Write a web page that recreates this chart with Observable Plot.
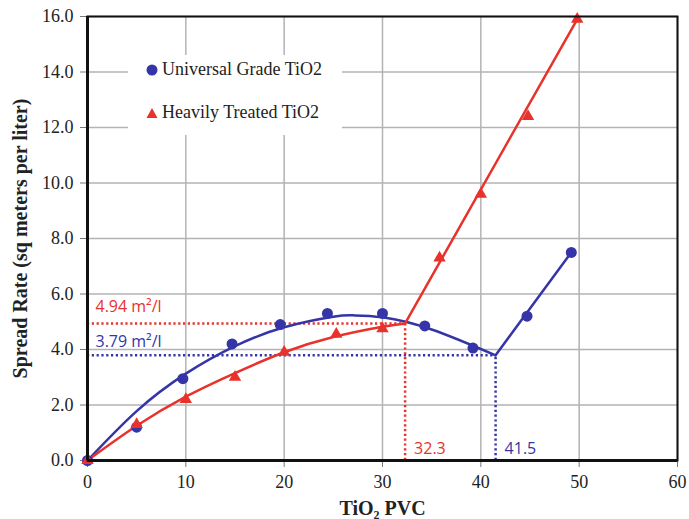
<!DOCTYPE html>
<html>
<head>
<meta charset="utf-8">
<script src="https://cdn.jsdelivr.net/npm/d3@7"></script>
<script src="https://cdn.jsdelivr.net/npm/@observablehq/plot@0.6"></script>
<style>
  html, body { margin: 0; padding: 0; background: white; }
  #wrap { position: relative; width: 689px; height: 519px; }
  #wrap g[aria-label$="tick label"] { font-family: "Liberation Serif", "Times New Roman", serif !important; font-variant: normal !important; }
  #legend { position: absolute; left: 128px; top: 55px; width: 214px; height: 80px; background: white;
    font-family: "Liberation Serif", "Times New Roman", serif; font-size: 18px; color: #222; }
  #legend .row { position: absolute; left: 17px; display: flex; align-items: center; }
  #legend svg { margin-right: 3px; }
</style>
</head>
<body>
<div id="wrap"></div>
<script>
// ---- data ----
const universalX = [0, 5, 9.7, 14.7, 19.6, 24.4, 30, 34.3, 39.2, 44.7, 49.2];
const universalY = [0, 1.2, 2.95, 4.2, 4.9, 5.3, 5.3, 4.85, 4.05, 5.2, 7.5];
const treatedX = [0, 5, 10, 15, 20, 25.3, 30, 35.8, 40, 44.8, 49.8];
const treatedY = [0, 1.3, 2.2, 3.0, 3.9, 4.55, 4.75, 7.3, 9.6, 12.4, 15.9];

// fitted curve (below CPVC)
const universalFitX = [0, 5, 10, 15, 20, 25, 27, 30, 35, 41.5];
const universalFitY = [0, 1.78, 3.13, 4.12, 4.8, 5.18, 5.23, 5.16, 4.72, 3.79];
const treatedFitX = [0, 5, 10, 15, 20, 25, 30, 32.3];
const treatedFitY = [0, 1.25, 2.3, 3.15, 3.9, 4.45, 4.82, 4.94];

// CPVC annotations
const cpvcX = [32.3, 41.5];
const cpvcY = [4.94, 3.79];
const cpvcSeries = ["treated", "universal"];
const cpvcLabelY = ["4.94 m²/l", "3.79 m²/l"];
const cpvcLabelX = ["32.3", "41.5"];

const seriesNames = ["Universal Grade TiO2", "Heavily Treated TiO2"];
const xTicks = [0, 10, 20, 30, 40, 50, 60];
const yTicks = [0, 2, 4, 6, 8, 10, 12, 14, 16];
const xTitle = "TiO₂ PVC";
const yTitle = "Spread Rate (sq meters per liter)";

// ---- build tables ----
const BLUE = "#3535a8", RED = "#e8322b";
const colorOf = s => s === "universal" ? BLUE : RED;
const universal = universalX.map((x, i) => ({x, y: universalY[i]}));
const treated = treatedX.map((x, i) => ({x, y: treatedY[i]}));
const universalFit = universalFitX.map((x, i) => ({x, y: universalFitY[i]}));
const treatedFit = treatedFitX.map((x, i) => ({x, y: treatedFitY[i]}));
const annot = cpvcX.map((x, i) => ({x, y: cpvcY[i], s: cpvcSeries[i], ly: cpvcLabelY[i], lx: cpvcLabelX[i]}));
const annotU = annot.filter(d => d.s === "universal");
const annotT = annot.filter(d => d.s === "treated");
const universalLine = [{x: cpvcX[1], y: cpvcY[1]}, universal[universal.length - 1]];
const treatedLine = [{x: cpvcX[0], y: cpvcY[0]}, treated[treated.length - 1]];

const sans = "'Open Sans', 'Noto Sans', sans-serif";
const serif = "'Liberation Serif', 'Times New Roman', serif";

const chart = Plot.plot({
  width: 689, height: 519,
  marginLeft: 87, marginRight: 12, marginTop: 16, marginBottom: 59,
  x: {domain: [0, 60]},
  y: {domain: [0, 16]},
  style: {fontFamily: serif, fontSize: "18px", color: "#222", background: "white"},
  marks: [
    Plot.gridX(xTicks, {stroke: "#b3b3b3", strokeOpacity: 1, strokeWidth: 1.5}),
    Plot.gridY(yTicks, {stroke: "#b3b3b3", strokeOpacity: 1, strokeWidth: 1.5}),
    Plot.axisX(xTicks, {tickSize: 7, tickPadding: 8, stroke: "#777", fill: "#222", fontFamily: serif, fontSize: 18, label: null, tickFormat: d => String(d)}),
    Plot.axisY(yTicks, {tickSize: 7, tickPadding: 7, stroke: "#777", fill: "#222", fontFamily: serif, fontSize: 18, label: null, tickFormat: d => d.toFixed(1)}),
    Plot.ruleY(annot, {y: "y", x1: 0, x2: "x", stroke: d => colorOf(d.s), strokeWidth: 2.5, strokeDasharray: "2.2,2.6"}),
    Plot.ruleX(annot, {x: "x", y1: 0, y2: "y", stroke: d => colorOf(d.s), strokeWidth: 2.5, strokeDasharray: "2.2,2.6"}),
    Plot.line(universalFit, {x: "x", y: "y", curve: "natural", stroke: BLUE, strokeWidth: 2.5}),
    Plot.line(treatedFit, {x: "x", y: "y", curve: "natural", stroke: RED, strokeWidth: 2.5}),
    Plot.line(universalLine, {x: "x", y: "y", stroke: BLUE, strokeWidth: 2.5}),
    Plot.line(treatedLine, {x: "x", y: "y", stroke: RED, strokeWidth: 2.5}),
    Plot.dot(universal, {x: "x", y: "y", symbol: "circle", r: 5.5, fill: BLUE}),
    Plot.dot(treated, {x: "x", y: "y", symbol: "triangle", r: 4.6, fill: RED}),
    Plot.text(annotT, {x: 0, y: "y", text: "ly", fill: RED, textAnchor: "start", dx: 8, dy: -17, fontFamily: sans, fontSize: 16}),
    Plot.text(annotU, {x: 0, y: "y", text: "ly", fill: BLUE, textAnchor: "start", dx: 8, dy: -13, fontFamily: sans, fontSize: 16}),
    Plot.text(annot, {x: "x", y: 0, text: "lx", fill: d => colorOf(d.s), textAnchor: "start", dx: 9, dy: -12, fontFamily: sans, fontSize: 16}),
    Plot.frame({stroke: "#111", strokeWidth: 2}),
    Plot.ruleX([0], {stroke: "#111", strokeWidth: 3}),
    Plot.ruleY([0], {stroke: "#111", strokeWidth: 3}),
    Plot.text([yTitle], {frameAnchor: "left", text: d => d, rotate: -90, textAnchor: "middle", lineAnchor: "middle", dx: -67, fontWeight: "bold", fontSize: 20, fill: "#222"}),
    Plot.text([xTitle], {frameAnchor: "bottom", text: d => d, textAnchor: "middle", lineAnchor: "middle", dy: 48, fontWeight: "bold", fontSize: 20, fill: "#222"})
  ]
});

const wrap = document.getElementById("wrap");
wrap.appendChild(chart);

// legend (inside plot, white box)
const legend = document.createElement("div");
legend.id = "legend";
const syms = [
  `<svg width="14" height="14"><circle cx="7" cy="7" r="5.5" fill="${BLUE}"/></svg>`,
  `<svg width="14" height="14"><path d="M7 2 L12.5 12 L1.5 12 Z" fill="${RED}"/></svg>`
];
seriesNames.forEach((name, i) => {
  const row = document.createElement("div");
  row.className = "row";
  row.style.top = (i === 0 ? 4 : 47) + "px";
  row.innerHTML = syms[i] + `<span>${name}</span>`;
  legend.appendChild(row);
});
wrap.appendChild(legend);
</script>
</body>
</html>
